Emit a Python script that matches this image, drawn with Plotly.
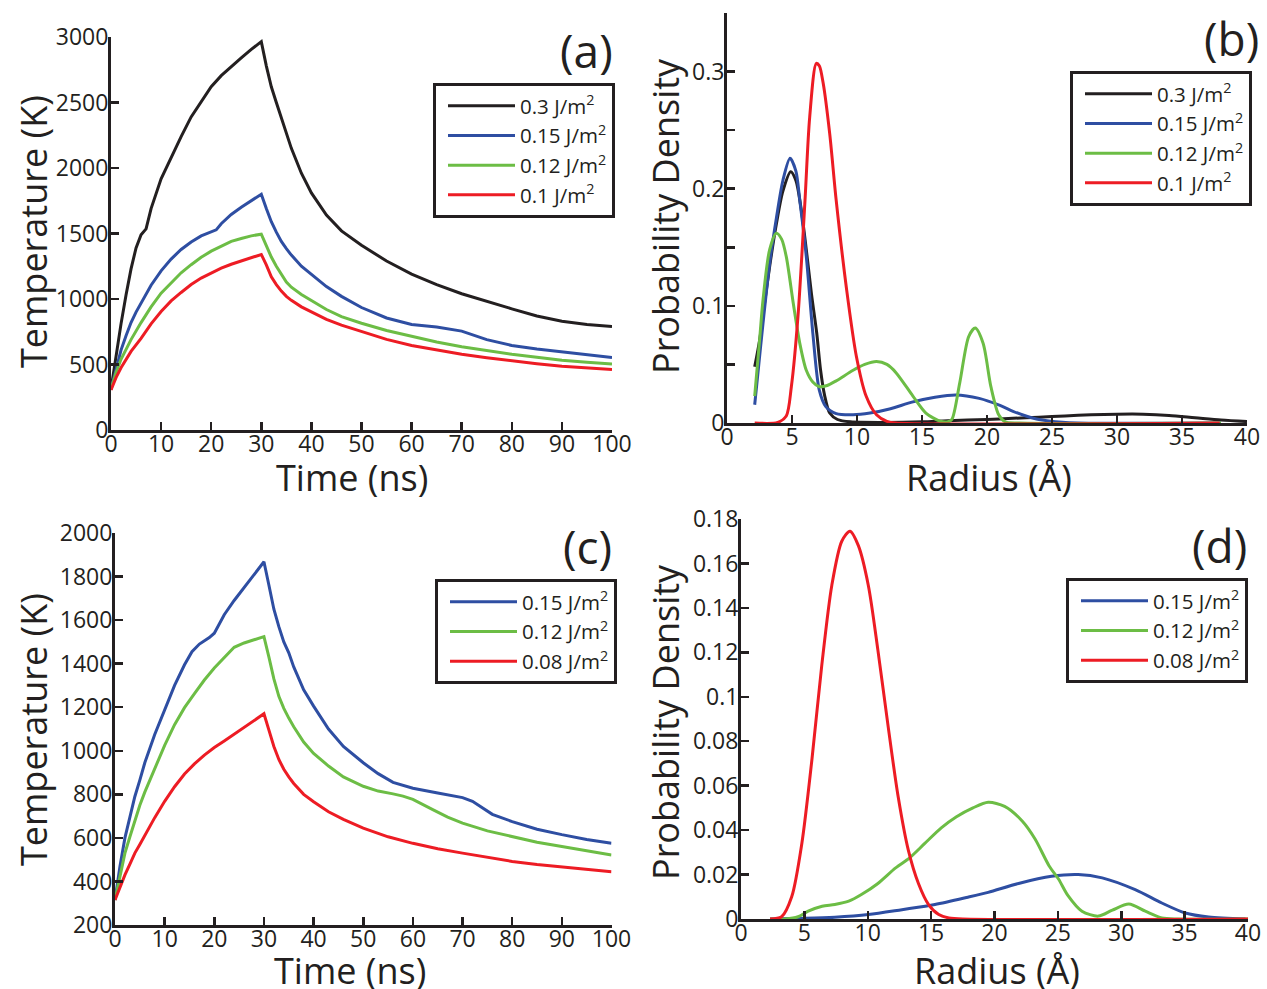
import plotly.graph_objects as go

# ---------------- Panel (a): temperature vs time ----------------
a_labels = ["0.3 J/m<sup>2</sup>", "0.15 J/m<sup>2</sup>", "0.12 J/m<sup>2</sup>", "0.1 J/m<sup>2</sup>"]

a_black_t = [0, 1, 2, 3, 4, 5, 6, 7, 8, 10, 12, 14, 16, 18, 20, 22, 24, 26, 28, 30,
             31, 32, 33, 34, 35, 36, 38, 40, 43, 46, 50, 55, 60, 65, 70, 75, 80, 85, 90, 95, 100]
a_black_T = [310, 570, 810, 1030, 1230, 1390, 1490, 1535, 1690, 1918, 2085, 2240, 2390, 2510, 2620,
             2705, 2775, 2840, 2905, 2965,
             2780, 2620, 2500, 2380, 2260, 2150, 1960, 1810, 1640, 1520, 1410, 1290, 1190, 1110,
             1040, 980, 925, 870, 830, 805, 790]

a_blue_t = [0, 1, 2, 3, 4, 5, 6, 7, 8, 10, 12, 14, 16, 18, 20, 21, 22, 24, 26, 28, 30,
            31, 32, 33, 34, 35, 36, 38, 40, 43, 46, 50, 55, 60, 65, 70, 75, 80, 85, 90, 95, 100]
a_blue_T = [310, 470, 610, 720, 820, 900, 970, 1040, 1105, 1215, 1305, 1378, 1435, 1482, 1512, 1528,
            1575, 1645, 1700, 1750, 1800,
            1690, 1590, 1510, 1440, 1385, 1335, 1250, 1190, 1095, 1020, 935, 855, 805, 787, 755,
            690, 645, 618, 595, 572, 553]

a_green_t = [0, 1, 2, 3, 4, 6, 8, 10, 12, 14, 16, 18, 20, 22, 24, 26, 28, 30,
             31, 32, 33, 34, 35, 36, 38, 40, 43, 46, 50, 55, 60, 65, 70, 75, 80, 85, 90, 95, 100]
a_green_T = [310, 440, 540, 620, 690, 820, 940, 1045, 1125, 1200, 1262, 1318, 1365, 1405, 1440, 1462,
             1482, 1495,
             1405, 1320, 1250, 1185, 1130, 1090, 1035, 988, 920, 865, 815, 760, 715, 672, 635, 605,
             578, 555, 533, 517, 503]

a_red_t = [0, 1, 2, 3, 4, 6, 8, 10, 12, 14, 16, 18, 20, 22, 24, 26, 28, 30,
           31, 32, 33, 34, 35, 36, 38, 40, 43, 46, 50, 55, 60, 65, 70, 75, 80, 85, 90, 95, 100]
a_red_T = [305, 400, 475, 540, 600, 700, 810, 905, 985, 1050, 1110, 1160, 1200, 1235, 1265, 1290,
           1315, 1340,
           1260, 1170, 1110, 1060, 1020, 990, 940, 900, 845, 800, 750, 692, 645, 610, 578, 552,
           528, 506, 487, 473, 462]

# ---------------- Panel (b): probability density vs radius ----------------
b_labels = ["0.3 J/m<sup>2</sup>", "0.15 J/m<sup>2</sup>", "0.12 J/m<sup>2</sup>", "0.1 J/m<sup>2</sup>"]

b_black_r = [2.13, 2.5, 2.8, 3.3, 3.8, 4.3, 4.9, 5.3, 5.7, 6.1, 6.5, 6.9, 7.2, 7.5, 7.9, 8.5, 9.5,
             12, 15, 17, 20, 22, 24, 26, 28, 30, 32, 34, 36, 38, 40]
b_black_p = [0.048, 0.070, 0.095, 0.135, 0.170, 0.198, 0.2145, 0.207, 0.183, 0.148, 0.110, 0.077,
             0.045, 0.024, 0.0085, 0.003, 0.001,
             0.0005, 0.001, 0.002, 0.003, 0.004, 0.005, 0.006, 0.007, 0.0075, 0.0075, 0.0065,
             0.0045, 0.0025, 0.0012]

b_blue_r = [2.13, 2.4, 2.77, 3.28, 3.8, 4.3, 4.85, 5.3, 5.6, 6.1, 6.6, 7.1, 7.6, 8.4, 9.7, 11,
            12.5, 14.3, 16, 17.6, 19.4, 21, 22, 23, 24, 25.8, 27, 38]
b_blue_p = [0.0156, 0.045, 0.085, 0.136, 0.175, 0.207, 0.226, 0.215, 0.190, 0.142, 0.077, 0.028,
            0.014, 0.008, 0.007, 0.0085, 0.012, 0.018, 0.022, 0.024, 0.021, 0.015, 0.010, 0.006,
            0.003, 0.0006, 0.0, 0.0]

b_green_r = [2.13, 2.5, 2.77, 3.28, 3.8, 4.2, 4.56, 5.1, 5.6, 6.1, 6.6, 7.1, 7.7, 8.4, 9.7, 10.6,
             11.5, 12.3, 13.0, 14.3, 15.3, 16.4, 17.0, 17.3, 17.9, 18.6, 19.1, 19.7, 20.3, 20.9,
             21.4, 22.5, 38]
b_green_p = [0.023, 0.070, 0.105, 0.148, 0.162, 0.157, 0.142, 0.102, 0.068, 0.045, 0.035, 0.031,
             0.032, 0.036, 0.045, 0.050, 0.0525, 0.050, 0.043, 0.023, 0.0085, 0.0015, 0.001,
             0.003, 0.034, 0.074, 0.081, 0.068, 0.031, 0.007, 0.001, 0.0, 0.0]

b_red_r = [2.13, 3.9, 4.56, 4.95, 5.46, 6.0, 6.36, 6.87, 7.1, 7.4, 7.9, 8.4, 9.2, 9.95, 10.7,
           11.5, 12.3, 13, 37.9]
b_red_p = [0.0, 0.0005, 0.006, 0.031, 0.091, 0.190, 0.261, 0.307, 0.305, 0.290, 0.247, 0.190,
           0.114, 0.057, 0.023, 0.007, 0.0014, 0.0, 0.0]

# ---------------- Panel (c): temperature vs time ----------------
c_labels = ["0.15 J/m<sup>2</sup>", "0.12 J/m<sup>2</sup>", "0.08 J/m<sup>2</sup>"]

c_blue_t = [0, 1, 2, 3, 4, 5, 6, 8, 10, 12, 14, 15.5, 17, 19, 20, 22, 24, 26, 28, 30,
            31, 32, 33, 34, 35, 36, 38, 40, 43, 46, 50, 53, 56, 60, 65, 70, 72, 74, 76, 80, 85,
            90, 95, 100]
c_blue_T = [315, 470, 600, 700, 790, 865, 945, 1075, 1190, 1300, 1395, 1455, 1490, 1520, 1540,
            1625, 1690, 1750, 1810, 1868,
            1760, 1650, 1570, 1500, 1450, 1385, 1280, 1205, 1100, 1020, 945, 895, 855, 828, 806,
            785, 768, 738, 708, 675, 640, 615, 593, 575]

c_green_t = [0, 1, 2, 3, 4, 5, 6, 8, 10, 12, 14, 16, 18, 20, 22, 24, 26, 28, 30,
             31, 32, 33, 34, 35, 36, 38, 40, 43, 46, 50, 53, 56, 58, 60, 62, 64, 67, 70, 75, 80,
             85, 90, 95, 100]
c_green_T = [315, 430, 530, 605, 680, 750, 810, 922, 1025, 1120, 1198, 1262, 1325, 1380, 1430,
             1475, 1495, 1510, 1524,
             1430, 1330, 1250, 1195, 1150, 1110, 1040, 988, 930, 880, 837, 815, 802, 792, 777,
             755, 730, 695, 668, 632, 605, 580, 560, 540, 521]

c_red_t = [0, 1, 2, 3, 4, 5, 6, 8, 10, 12, 14, 16, 18, 20, 22, 24, 26, 28, 30,
           31, 32, 33, 34, 35, 36, 38, 40, 43, 46, 50, 55, 60, 65, 70, 75, 80, 85, 90, 95, 100]
c_red_T = [315, 375, 430, 480, 530, 570, 612, 693, 768, 835, 893, 940, 980, 1015, 1045, 1077,
           1108, 1138, 1170,
           1095, 1020, 960, 915, 880, 850, 800, 766, 720, 685, 645, 605, 575, 550, 530, 510, 492,
           478, 466, 455, 445]

# ---------------- Panel (d): probability density vs radius ----------------
d_labels = ["0.15 J/m<sup>2</sup>", "0.12 J/m<sup>2</sup>", "0.08 J/m<sup>2</sup>"]

d_blue_r = [2.29, 5, 7.4, 10.05, 12.7, 15.3, 17.9, 19.5, 21.9, 24.5, 26.6, 28.5, 31.1, 33.2, 35.05,
            36.9, 39.8]
d_blue_p = [0.0, 0.0003, 0.0008, 0.002, 0.0042, 0.0065, 0.0098, 0.012, 0.016, 0.0192, 0.020,
            0.0185, 0.0132, 0.0072, 0.0027, 0.0009, 0.0]

d_green_r = [2.29, 3.5, 4.5, 5.3, 6.4, 7.4, 8.5, 9.5, 10.8, 12.2, 13.3, 14.5, 15.8, 17, 18.3, 19.5,
             20.8, 22.2, 23.2, 24.3, 25.05, 25.8, 26.9, 28.2, 29.3, 30.6, 31.9, 33.2, 34.5, 40]
d_green_p = [0.0, 0.0, 0.001, 0.0035, 0.0057, 0.0065, 0.008, 0.011, 0.016, 0.023, 0.0275, 0.034,
             0.041, 0.046, 0.050, 0.0525, 0.0507, 0.044, 0.036, 0.024, 0.018, 0.0105, 0.0035,
             0.0013, 0.004, 0.0067, 0.0035, 0.0005, 0.0, 0.0]

d_red_r = [2.29, 3.2, 4.0, 4.8, 5.6, 6.37, 7.16, 7.95, 8.6, 9.26, 10.05, 10.8, 11.6, 12.4, 13.2,
           14.0, 14.8, 15.6, 16.4, 17.5, 40]
d_red_p = [0.0, 0.001, 0.010, 0.034, 0.072, 0.114, 0.150, 0.170, 0.1745, 0.168, 0.150, 0.121,
           0.087, 0.055, 0.031, 0.016, 0.0065, 0.002, 0.0005, 0.0, 0.0]

# ---------------- styling ----------------
W, H = 1267, 989
FONT = "Open Sans, Liberation Sans, Arial, sans-serif"
INK = "#231f20"
BLACK, BLUE, GREEN, RED = "#231f20", "#2e4ea2", "#6cbd45", "#ed1c24"
LW = 3

fig = go.Figure()


def add(x, y, color, name, xa, ya, leg, shape="linear"):
    fig.add_trace(go.Scatter(x=x, y=y, mode="lines", name=name,
                             line=dict(color=color, width=LW, shape=shape, smoothing=0.8),
                             xaxis=xa, yaxis=ya, legend=leg, showlegend=True,
                             hoverinfo="skip"))


add(a_black_t, a_black_T, BLACK, a_labels[0], "x", "y", "legend")
add(a_blue_t, a_blue_T, BLUE, a_labels[1], "x", "y", "legend")
add(a_green_t, a_green_T, GREEN, a_labels[2], "x", "y", "legend")
add(a_red_t, a_red_T, RED, a_labels[3], "x", "y", "legend")

add(b_black_r, b_black_p, BLACK, b_labels[0], "x2", "y2", "legend2", "spline")
add(b_blue_r, b_blue_p, BLUE, b_labels[1], "x2", "y2", "legend2", "spline")
add(b_green_r, b_green_p, GREEN, b_labels[2], "x2", "y2", "legend2", "spline")
add(b_red_r, b_red_p, RED, b_labels[3], "x2", "y2", "legend2", "spline")

add(c_blue_t, c_blue_T, BLUE, c_labels[0], "x3", "y3", "legend3")
add(c_green_t, c_green_T, GREEN, c_labels[1], "x3", "y3", "legend3")
add(c_red_t, c_red_T, RED, c_labels[2], "x3", "y3", "legend3")

add(d_blue_r, d_blue_p, BLUE, d_labels[0], "x4", "y4", "legend4", "spline")
add(d_green_r, d_green_p, GREEN, d_labels[1], "x4", "y4", "legend4", "spline")
add(d_red_r, d_red_p, RED, d_labels[2], "x4", "y4", "legend4", "spline")


def px_x(v):
    return v / W


def px_y(v):
    return 1 - v / H


axis_common = dict(showline=True, linewidth=3, linecolor=INK, mirror=False, showgrid=False,
                   zeroline=False, ticks="inside", ticklen=8, tickwidth=2.5, tickcolor=INK,
                   tickfont=dict(family=FONT, size=23, color=INK), fixedrange=True,
                   automargin=False)
xcommon = dict(axis_common, ticklabelstandoff=-9)
ycommon = dict(axis_common, ticklabelstandoff=-5)

fig.update_layout(
    template="none",
    width=W, height=H, autosize=False,
    margin=dict(l=0, r=0, t=0, b=0, pad=0, autoexpand=False),
    paper_bgcolor="white", plot_bgcolor="white",
    font=dict(family=FONT, color=INK),
    xaxis=dict(domain=[px_x(111), px_x(612)], range=[0, 100], tickvals=list(range(0, 101, 10)),
               anchor="y", **xcommon),
    yaxis=dict(domain=[px_y(430), px_y(37)], range=[0, 3000], tickvals=list(range(0, 3001, 500)),
               anchor="x", **ycommon),
    xaxis2=dict(domain=[px_x(727), px_x(1247)], range=[0, 40], tickvals=list(range(0, 41, 5)),
                anchor="y2", **xcommon),
    yaxis2=dict(domain=[px_y(423), px_y(13)], range=[0, 0.35],
                tickvals=[0, 0.1, 0.2, 0.3], ticktext=["0", "0.1", "0.2", "0.3"],
                minor=dict(ticks="inside", tickvals=[0.05, 0.15, 0.25, 0.35], ticklen=8,
                           tickwidth=2.5, tickcolor=INK, showgrid=False),
                anchor="x2", **ycommon),
    xaxis3=dict(domain=[px_x(115), px_x(611.5)], range=[0, 100], tickvals=list(range(0, 101, 10)),
                anchor="y3", **xcommon),
    yaxis3=dict(domain=[px_y(925), px_y(533)], range=[200, 2000],
                tickvals=list(range(200, 2001, 200)), anchor="x3", **ycommon),
    xaxis4=dict(domain=[px_x(741), px_x(1248)], range=[0, 40], tickvals=list(range(0, 41, 5)),
                anchor="y4", **xcommon),
    yaxis4=dict(domain=[px_y(919), px_y(519)], range=[0, 0.18],
                tickvals=[0, 0.02, 0.04, 0.06, 0.08, 0.1, 0.12, 0.14, 0.16, 0.18],
                ticktext=["0", "0.02", "0.04", "0.06", "0.08", "0.1", "0.12", "0.14", "0.16", "0.18"],
                anchor="x4", **ycommon),
)

leg_common = dict(bgcolor="white", bordercolor=INK, borderwidth=3,
                  font=dict(family=FONT, size=20.5, color=INK), xanchor="left", yanchor="top",
                  itemwidth=67, indentation=7, itemclick=False, itemdoubleclick=False)
fig.update_layout(
    legend=dict(x=px_x(433), y=px_y(83), **leg_common),
    legend2=dict(x=px_x(1070), y=px_y(71), **leg_common),
    legend3=dict(x=px_x(435), y=px_y(579), **leg_common),
    legend4=dict(x=px_x(1066), y=px_y(578), **leg_common),
)

TITLE_SIZE = 36
annots = [
    ("Temperature (K)", 33, 232, -90, TITLE_SIZE),
    ("Time (ns)", 352, 478, 0, TITLE_SIZE),
    ("Probability Density", 665, 216, -90, TITLE_SIZE),
    ("Radius (Å)", 989, 478, 0, TITLE_SIZE),
    ("Temperature (K)", 33, 730, -90, TITLE_SIZE),
    ("Time (ns)", 350, 970, 0, TITLE_SIZE),
    ("Probability Density", 665, 722, -90, TITLE_SIZE),
    ("Radius (Å)", 997, 970, 0, TITLE_SIZE),
    ("(a)", 586, 50, 0, 46),
    ("(b)", 1231, 38, 0, 46),
    ("(c)", 587, 546, 0, 46),
    ("(d)", 1219, 545, 0, 46),
]
for text, cx, cy, ang, size in annots:
    fig.add_annotation(text=text, x=px_x(cx), y=px_y(cy), xref="paper", yref="paper",
                       xanchor="center", yanchor="middle", showarrow=False, textangle=ang,
                       font=dict(family=FONT, size=size, color=INK))

fig.write_html("out.html", config={"displayModeBar": False, "staticPlot": True},
               post_script="document.body.style.margin='0px';document.body.style.overflow='hidden';")
